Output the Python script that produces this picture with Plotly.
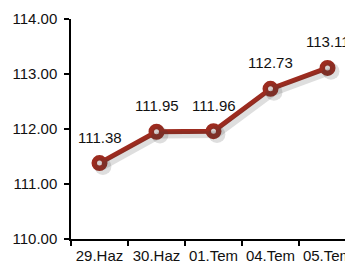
import plotly.graph_objects as go

categories = ["29.Haz", "30.Haz", "01.Tem", "04.Tem", "05.Tem"]
values = [111.38, 111.95, 111.96, 112.73, 113.11]
labels = ["111.38", "111.95", "111.96", "112.73", "113.11"]

FONT = "Liberation Sans, Arial"
X_RANGE = [-0.5, 4.447]
Y_RANGE = [110, 114]
SHADOW_DX = 0.06   # category units (~3px)
SHADOW_DY = 0.06   # value units (~3px)

fig = go.Figure()
# soft drop shadow drawn on an overlaid, slightly offset axis pair
fig.add_trace(go.Scatter(
    x=categories, y=values, mode="lines+markers", xaxis="x2", yaxis="y2",
    line=dict(color="rgba(60,60,60,0.17)", width=7),
    marker=dict(size=17, color="rgba(60,60,60,0.17)"),
    hoverinfo="skip", cliponaxis=False,
))
fig.add_trace(go.Scatter(
    x=categories, y=values, mode="lines+markers",
    line=dict(color="#9c2b1f", width=5),
    marker=dict(size=10.5, color="#f6ecec", line=dict(color="#9c2b1f", width=5.5)),
    cliponaxis=False,
))
for c, v, t in zip(categories, values, labels):
    fig.add_annotation(x=c, y=v, text=t, showarrow=False, yshift=26,
                       font=dict(family=FONT, size=15, color="#111111"))

# page body has an 8px margin; figure sized to fill the rest of the window
fig.update_layout(
    width=345, height=263,
    margin=dict(l=63, r=0, t=11, b=32, autoexpand=False),
    paper_bgcolor="white", plot_bgcolor="white",
    showlegend=False,
    font=dict(family=FONT, size=15, color="#111111"),
    xaxis2=dict(type="category", overlaying="x", visible=False,
                range=[X_RANGE[0] - SHADOW_DX, X_RANGE[1] - SHADOW_DX]),
    yaxis2=dict(overlaying="y", visible=False,
                range=[Y_RANGE[0] + SHADOW_DY, Y_RANGE[1] + SHADOW_DY]),
)
fig.layout.xaxis.update(
    type="category", range=X_RANGE, automargin=False,
    showline=True, linecolor="black", linewidth=1.5,
    ticks="outside", tickson="boundaries", ticklen=5, tickcolor="black", tickwidth=1.5,
    tickangle=0, ticklabelstandoff=2,
    showgrid=False, zeroline=False,
    tickfont=dict(size=15),
)
fig.layout.yaxis.update(
    range=Y_RANGE, dtick=1, tickformat=".2f", automargin=False,
    showline=True, linecolor="black", linewidth=1.5,
    ticks="outside", ticklen=5, tickcolor="black", tickwidth=1.5,
    ticklabelstandoff=4,
    showgrid=False, zeroline=False,
    tickfont=dict(size=15),
)
fig.write_html("out.html")
